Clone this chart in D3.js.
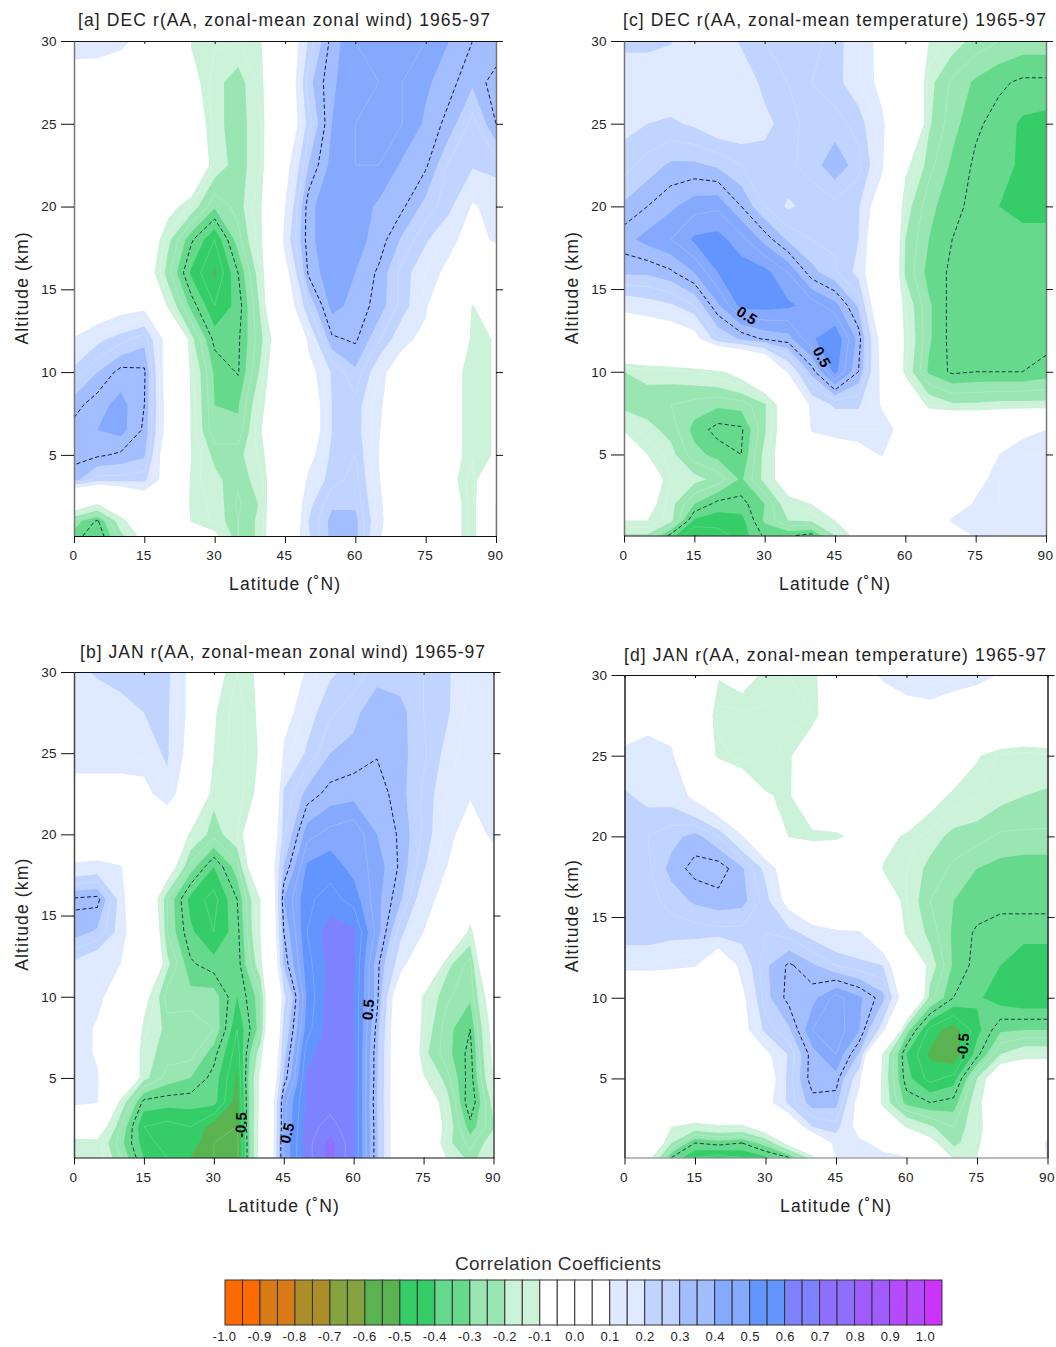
<!DOCTYPE html>
<html>
<head>
<meta charset="utf-8">
<script src="https://cdn.jsdelivr.net/npm/d3@7"></script>
<style>
	html, body { margin: 0; padding: 0; background: #fff; }
	svg { display: block; font-family: 'Liberation Sans', Arial, sans-serif; }
</style>
</head>
<body>
<div id="graph"></div>
<script>
// Grid nodes of the four fields
const latitudes = d3.range(0, 91, 5);
const altitudes = [0.1, 1, 2, 3.5, 5, 6.5, 8, 10, 12, 14, 16, 18, 20, 22.5, 25, 27.5, 30];
const latTicks = [0, 15, 30, 45, 60, 75, 90];
const altTicks = [5, 10, 15, 20, 25, 30];

// Correlation, one row per altitude (bottom row first)
const decWind = [
	[-.47,-.55,-.37,-.2,-.1,-.1,-.22,-.4,-.33,.1,.34,.47,.47,.27,.1,.03,-.15,-.34,.27],
	[-.42,-.51,-.3,-.1,.03,-.26,-.31,-.4,-.33,.05,.35,.47,.47,.29,.1,.03,-.15,-.34,.27],
	[-.15,-.26,-.1,.1,.05,-.28,-.31,-.41,-.34,.05,.33,.44,.44,.28,.1,.03,-.15,-.34,.27],
	[.47,.38,.38,.37,.18,-.28,-.33,-.39,-.31,-.05,.28,.38,.42,.26,.1,.03,-.2,-.34,.1],
	[.52,.51,.49,.46,.15,-.25,-.37,-.37,-.28,-.05,.2,.37,.4,.25,.1,.03,-.2,-.29,-.24],
	[.52,.55,.57,.49,.2,-.27,-.44,-.44,-.25,-.05,.15,.35,.38,.26,.12,.03,-.2,-.29,-.24],
	[.48,.53,.57,.5,.2,-.27,-.45,-.455,-.28,-.05,.15,.35,.38,.27,.15,.05,-.2,-.29,-.24],
	[.37,.45,.52,.51,.18,-.28,-.46,-.505,-.33,-.05,.2,.36,.44,.3,.15,.05,-.2,-.29,-.24],
	[.26,.33,.38,.43,.2,-.33,-.52,-.51,-.36,-.1,.28,.49,.51,.41,.3,.2,.05,-.29,-.24],
	[.1,.15,.2,.22,-.28,-.47,-.6,-.53,-.33,.15,.4,.57,.53,.48,.38,.28,-.05,-.26,-.1],
	[.03,.03,.05,-.15,-.38,-.56,-.66,-.5,-.3,.2,.51,.59,.55,.49,.38,.3,.22,.1,.1],
	[.02,.02,.02,-.1,-.33,-.49,-.6,-.42,-.26,.3,.53,.6,.57,.53,.44,.36,.28,.2,.27],
	[.03,.02,.02,.02,-.2,-.31,-.44,-.38,-.25,.25,.53,.6,.58,.54,.51,.43,.37,.24,.28],
	[.05,.03,.02,.02,.02,-.05,-.31,-.38,-.3,.2,.45,.57,.6,.6,.54,.51,.39,.36,.38],
	[.08,.08,.05,.03,.03,-.12,-.33,-.38,-.3,.1,.38,.55,.6,.62,.6,.54,.48,.38,.5],
	[.2,.18,.15,.1,.05,-.2,-.33,-.38,-.28,.1,.43,.54,.59,.6,.6,.56,.52,.46,.53],
	[.29,.3,.28,.2,.1,-.26,-.29,-.3,-.25,.1,.36,.52,.6,.62,.62,.6,.55,.5,.45]
];
const janWind = [
	[-.26,-.26,-.4,-.55,-.6,-.65,-.7,-.72,-.2,.6,.78,.87,.76,.46,.1,-.05,-.26,-.38,-.28],
	[-.3,-.28,-.43,-.58,-.62,-.62,-.7,-.72,-.2,.6,.78,.87,.76,.46,.1,-.05,-.33,-.42,-.3],
	[-.1,-.15,-.4,-.6,-.62,-.6,-.68,-.7,-.2,.58,.78,.82,.76,.46,.1,-.05,-.3,-.48,-.36],
	[.3,.26,-.3,-.52,-.53,-.53,-.53,-.68,-.22,.58,.76,.78,.76,.45,.1,-.12,-.32,-.55,-.32],
	[.3,.26,.1,-.33,-.42,-.45,-.52,-.66,-.22,.46,.76,.78,.76,.46,.1,-.24,-.38,-.53,-.25],
	[.29,.24,.05,-.32,-.38,-.38,-.48,-.63,-.3,.42,.73,.79,.76,.46,.1,-.33,-.43,-.52,-.22],
	[.29,.24,.05,-.28,-.37,-.36,-.4,-.6,-.42,.38,.68,.78,.76,.48,.1,-.3,-.43,-.5,-.2],
	[.28,.27,.2,-.2,-.43,-.43,-.42,-.55,-.42,.32,.66,.78,.75,.52,.12,-.28,-.39,-.44,-.15],
	[.33,.28,.25,.08,-.33,-.49,-.53,-.53,-.3,.46,.68,.77,.76,.52,.3,.1,-.33,-.42,.05],
	[.48,.44,.32,.05,-.4,-.54,-.6,-.52,-.25,.5,.7,.78,.76,.58,.37,.25,.1,-.3,.15],
	[.51,.52,.32,-.05,-.4,-.57,-.62,-.5,-.25,.55,.69,.72,.68,.57,.46,.3,.2,-.1,.27],
	[.28,.3,.26,.1,-.15,-.42,-.55,-.42,-.05,.45,.66,.68,.63,.58,.49,.36,.25,.1,.2],
	[.05,.05,.05,.05,.05,-.28,-.38,-.3,-.1,.38,.58,.62,.64,.55,.49,.39,.28,.2,.27],
	[.22,.22,.2,.2,.33,.12,-.33,-.33,-.22,.36,.47,.52,.53,.53,.47,.39,.3,.26,.26],
	[.28,.28,.3,.32,.36,.2,-.25,-.33,-.24,.27,.36,.45,.47,.495,.47,.41,.33,.27,.27],
	[.28,.3,.33,.35,.36,.22,-.24,-.33,-.23,.2,.32,.39,.43,.5,.47,.4,.36,.28,.28],
	[.33,.36,.37,.37,.37,.22,-.2,-.3,-.23,.1,.27,.34,.37,.42,.42,.4,.36,.3,.28]
];
const decTemp = [
	[-.36,-.36,-.52,-.66,-.62,-.58,-.49,-.49,-.52,-.35,-.2,-.05,.03,.08,.15,.27,.3,.3,.3],
	[-.25,-.25,-.33,-.56,-.58,-.57,-.44,-.35,-.34,-.25,-.1,0,.03,.1,.27,.3,.3,.3,.3],
	[.05,-.2,-.33,-.45,-.52,-.52,-.45,-.3,-.25,-.1,0,.02,.03,.05,.15,.27,.3,.3,.3],
	[.05,-.15,-.3,-.33,-.37,-.46,-.33,-.15,.05,.1,.1,.1,.05,.03,.03,.2,.3,.33,.3],
	[.1,-.25,-.33,-.43,-.47,-.5,-.33,-.15,.05,.15,.2,.26,.1,.03,.03,.1,.25,.3,.3],
	[-.28,-.33,-.37,-.47,-.52,-.51,-.36,-.15,.27,.3,.3,.3,.2,.05,.05,.05,.12,.22,.25],
	[-.37,-.38,-.4,-.42,-.44,-.43,-.36,-.15,.3,.36,.36,.24,.05,-.3,-.34,-.34,-.33,-.33,-.33],
	[-.35,-.33,-.32,-.3,-.27,-.2,-.05,.27,.47,.67,.5,.22,-.3,-.46,-.51,-.5,-.5,-.5,-.48],
	[.05,.1,.15,.2,.4,.46,.51,.53,.64,.7,.53,.2,-.28,-.44,-.52,-.52,-.52,-.52,-.52],
	[.3,.32,.34,.4,.54,.67,.67,.66,.63,.57,.44,.1,-.3,-.44,-.52,-.52,-.52,-.52,-.52],
	[.46,.46,.49,.55,.65,.68,.67,.6,.47,.41,.33,.05,-.36,-.47,-.51,-.52,-.52,-.52,-.52],
	[.53,.57,.6,.66,.67,.62,.53,.44,.4,.39,.35,.08,-.35,-.45,-.5,-.51,-.52,-.52,-.52],
	[.46,.5,.54,.58,.59,.5,.4,.34,.37,.38,.36,.15,-.32,-.43,-.49,-.51,-.55,-.58,-.58],
	[.38,.42,.46,.46,.44,.4,.38,.39,.42,.49,.42,.28,-.22,-.38,-.46,-.51,-.53,-.56,-.58],
	[.33,.35,.36,.34,.3,.3,.33,.38,.42,.42,.38,.27,.1,-.34,-.43,-.49,-.52,-.56,-.57],
	[.3,.3,.3,.3,.3,.3,.37,.4,.4,.37,.31,.22,.05,-.33,-.41,-.46,-.49,-.51,-.51],
	[.37,.37,.355,.3,.3,.36,.4,.42,.42,.38,.3,.22,.1,-.25,-.32,-.37,-.4,-.42,-.42]
];
const janTemp = [
	[0,-.2,-.5,-.6,-.62,-.6,-.56,-.5,-.3,.25,.27,.27,.26,.1,-.28,-.25,0,.05,.26],
	[0,-.05,-.35,-.5,-.48,-.5,-.42,-.2,.05,.3,.27,.22,.05,-.2,-.37,-.3,0,.1,.27],
	[0,0,-.25,-.3,-.27,-.28,-.15,.1,.35,.38,.2,0,-.27,-.34,-.4,-.3,-.1,.1,.2],
	[0,0,0,0,0,.05,.2,.37,.48,.47,.2,-.3,-.47,-.5,-.48,-.3,-.05,0,0],
	[0,0,0,0,0,.05,.15,.38,.53,.53,.28,-.3,-.53,-.62,-.58,-.35,-.1,-.05,-.05],
	[0,0,0,0,0,.1,.22,.36,.53,.6,.44,-.28,-.55,-.66,-.7,-.52,-.35,-.3,-.3],
	[0,0,0,0,.03,.2,.37,.44,.6,.63,.55,.3,-.42,-.62,-.68,-.57,-.46,-.45,-.45],
	[0,0,.02,.03,.08,.22,.43,.52,.53,.62,.56,.47,.15,-.38,-.5,-.54,-.58,-.6,-.6],
	[.3,.3,.28,.26,.1,.29,.44,.51,.46,.4,.37,.35,.05,-.31,-.46,-.52,-.55,-.59,-.59],
	[.38,.38,.37,.37,.38,.38,.4,.38,.32,.28,.27,.1,-.28,-.37,-.46,-.51,-.53,-.53,-.53],
	[.38,.38,.42,.46,.48,.47,.38,.2,.05,0,-.02,-.1,-.3,-.4,-.45,-.47,-.48,-.48,-.48],
	[.36,.39,.47,.52,.53,.46,.33,.15,-.02,-.02,-.02,-.26,-.3,-.37,-.41,-.45,-.47,-.48,-.48],
	[.37,.4,.43,.47,.4,.26,.05,-.26,-.29,-.28,-.2,-.2,-.27,-.32,-.37,-.38,-.41,-.41,-.41],
	[.36,.33,.32,.22,.1,-.1,-.24,-.27,-.05,0,0,0,-.05,-.2,-.27,-.3,-.33,-.35,-.36],
	[.3,.3,.28,-.05,-.28,-.32,-.32,-.27,-.1,0,0,0,-.02,-.05,-.15,-.24,-.31,-.33,-.31],
	[.1,.2,.15,-.05,-.32,-.31,-.31,-.32,-.3,-.1,0,.1,.18,.2,.15,.1,.05,.02,0],
	[.05,.05,.02,-.26,-.24,-.2,-.27,-.3,-.29,-.1,.15,.28,.32,.33,.32,.3,.24,.1,.05]
];

// Colour bar
const legendColors = [
	'#ff6a00', '#ff6a00', '#d87a15', '#d87a15', '#ab8e2a', '#ab8e2a', '#85a33f', '#85a33f',
	'#5ab351', '#5ab351', '#35cd68', '#35cd68', '#66d98d', '#66d98d', '#99e6b3', '#99e6b3',
	'#ccf2d9', '#ccf2d9', '#ffffff', '#ffffff', '#ffffff', '#ffffff', '#dfe9ff', '#dfe9ff',
	'#c0d4ff', '#c0d4ff', '#a2beff', '#a2beff', '#85a9ff', '#85a9ff', '#6395ff', '#6395ff',
	'#7f82ff', '#7f82ff', '#8f6fff', '#8f6fff', '#a05cff', '#a05cff', '#b54aff', '#b54aff',
	'#cc33ff'
];
const legendTicks = d3.range(-10, 11).map((d) => d / 10);

// Shaded bands: |r| at which each colour starts
const bandLevels = [0.25, 0.35, 0.45, 0.55, 0.65, 0.75, 0.85];
const positiveBands = ['#dfe9ff', '#c0d4ff', '#a2beff', '#85a9ff', '#6395ff', '#7f82ff', '#8f6fff'];
const negativeBands = ['#ccf2d9', '#99e6b3', '#66d98d', '#35cd68', '#5ab351', '#85a33f', '#ab8e2a'];
const thinLevels = [0.3, 0.4, 0.6, 0.7, 0.8];

const panels = [
	{
		title: '[a] DEC r(AA, zonal-mean zonal wind) 1965-97', field: decWind,
		left: 74, right: 496, top: 41, bottom: 536,
		titleX: 78, titleW: 412, titleY: 26, yLabelX: 28, side: '#777', base: '#111',
		labels: []
	},
	{
		title: '[b] JAN r(AA, zonal-mean zonal wind) 1965-97', field: janWind,
		left: 74, right: 493.5, top: 672, bottom: 1157.5,
		titleX: 80, titleW: 405, titleY: 658, yLabelX: 28, side: '#444', base: '#111',
		labels: [
			{ lat: 35.8, alt: 2.1, text: '-0.5', angle: -88 },
			{ lat: 45.7, alt: 1.6, text: '0.5', angle: -75 },
			{ lat: 63.1, alt: 9.2, text: '0.5', angle: -85 }
		]
	},
	{
		title: '[c] DEC r(AA, zonal-mean temperature) 1965-97', field: decTemp,
		left: 624, right: 1046, top: 41, bottom: 535.5,
		titleX: 623, titleW: 423, titleY: 26, yLabelX: 578, side: '#777', base: '#111',
		labels: [
			{ lat: 26.2, alt: 13.4, text: '0.5', angle: 33 },
			{ lat: 42.2, alt: 10.9, text: '0.5', angle: 62 }
		]
	},
	{
		title: '[d] JAN r(AA, zonal-mean temperature) 1965-97', field: janTemp,
		left: 624.5, right: 1047.5, top: 675, bottom: 1157.5,
		titleX: 624, titleW: 422, titleY: 661, yLabelX: 578, side: '#222', base: '#777',
		labels: [{ lat: 72, alt: 7, text: '-0.5', angle: -85 }]
	}
];

const svg = d3.select('#graph').append('svg').attr('width', 1056).attr('height', 1347);

const latAt = d3.scaleLinear().domain([0, latitudes.length - 1]).range([0, 90]).clamp(true);
const altAt = d3.scaleLinear().domain(d3.range(altitudes.length)).range(altitudes).clamp(true);

panels.forEach((p) => drawPanel(p));
drawLegend();

function drawPanel(p) {
	const n = latitudes.length,
		m = altitudes.length;
	const values = p.field.flat();
	const x = d3.scaleLinear().domain([0, 90]).range([p.left, p.right]);
	const y = d3.scaleLinear().domain([0.1, 30]).range([p.bottom, p.top]);
	const g = svg.append('g');

	// contours() counts cells, so a node sits half a cell in from the corner
	const px = (pt) => [x(latAt(pt[0] - 0.5)), y(altAt(pt[1] - 0.5))];
	const area = (sign, level) => {
		const c = d3.contours().size([n, m]).smooth(true).contour(values.map((v) => sign * v), level);
		return c.coordinates
			.flatMap((poly) => poly.map((ring) => 'M' + ring.map((pt) => px(pt).join(',')).join('L') + 'Z'))
			.join('');
	};
	// Contour outline without the stretches that run along the frame
	const outline = (sign, level) => {
		const c = d3.contours().size([n, m]).smooth(true).contour(values.map((v) => sign * v), level);
		const edge = (pt) =>
			pt[0] <= 0.5 ? 1 : pt[0] >= n - 0.5 ? 2 : pt[1] <= 0.5 ? 3 : pt[1] >= m - 0.5 ? 4 : 0;
		const path = d3.path();
		c.coordinates.forEach((poly) =>
			poly.forEach((ring) => {
				let pen = false;
				for (let i = 1; i < ring.length; i++) {
					const a = edge(ring[i - 1]),
						b = edge(ring[i]);
					if (a && b) {
						pen = false;
						continue;
					}
					if (!pen) path.moveTo(...px(ring[i - 1]));
					path.lineTo(...px(ring[i]));
					pen = true;
				}
			})
		);
		return path.toString();
	};

	bandLevels.forEach((level, i) => {
		g.append('path').attr('d', area(1, level)).attr('fill', positiveBands[i]);
		g.append('path').attr('d', area(-1, level)).attr('fill', negativeBands[i]);
	});

	// Faint lines inside the bands
	thinLevels.forEach((level) => {
		[1, -1].forEach((sign) => {
			g.append('path')
				.attr('d', outline(sign, level))
				.attr('fill', 'none')
				.attr('stroke', '#fff')
				.attr('stroke-opacity', 0.3)
				.attr('stroke-width', 0.6);
		});
	});

	// Dashed +/-0.5 contours
	g.append('path')
		.attr('d', outline(1, 0.5))
		.attr('fill', 'none')
		.attr('stroke', '#12125c')
		.attr('stroke-width', 1)
		.attr('stroke-dasharray', '4 2.5');
	g.append('path')
		.attr('d', outline(-1, 0.5))
		.attr('fill', 'none')
		.attr('stroke', '#173c3c')
		.attr('stroke-width', 1)
		.attr('stroke-dasharray', '4 2.5');

	// Inline contour labels
	p.labels.forEach((d) => {
		g.append('text')
			.attr('transform', `translate(${x(d.lat)}, ${y(d.alt)}) rotate(${d.angle})`)
			.attr('text-anchor', 'middle')
			.attr('dy', '0.35em')
			.attr('font-size', 15)
			.attr('font-weight', 'bold')
			.attr('fill', '#000')
			.text(d.text);
	});

	// Axes
	const styleAxis = (sel, color, width) => {
		sel.select('.domain').attr('stroke', color).attr('stroke-width', width);
		sel.selectAll('.tick line').attr('stroke', '#111').attr('stroke-width', 1);
		sel.selectAll('.tick text')
			.attr('font-size', 13.5)
			.attr('fill', '#222')
			.attr('font-family', 'inherit')
			.attr('letter-spacing', 0.4);
	};
	g.append('g')
		.attr('transform', `translate(0, ${p.top})`)
		.call(d3.axisTop(x).tickValues(latTicks).tickSize(-3).tickFormat(''))
		.call(styleAxis, '#111', 1);
	g.append('g')
		.attr('transform', `translate(${p.right}, 0)`)
		.call(d3.axisRight(y).tickValues(altTicks).tickSize(7).tickSizeOuter(0).tickFormat(''))
		.call(styleAxis, p.side, 1.5);
	g.append('g')
		.attr('transform', `translate(${p.left}, 0)`)
		.call(d3.axisLeft(y).tickValues(altTicks).tickSize(13).tickSizeOuter(0).tickPadding(4))
		.call(styleAxis, p.side, 1.5);
	g.append('g')
		.attr('transform', `translate(0, ${p.bottom})`)
		.call(d3.axisBottom(x).tickValues(latTicks).tickSize(7).tickSizeOuter(0).tickPadding(7.5))
		.call(styleAxis, p.base, 1.2)
		.selectAll('.tick text')
		.attr('dx', -1);

	// Titles
	g.append('text')
		.attr('x', p.titleX)
		.attr('y', p.titleY)
		.attr('font-size', 17.5)
		.attr('fill', '#222')
		.attr('textLength', p.titleW)
		.attr('lengthAdjust', 'spacing')
		.text(p.title);
	g.append('text')
		.attr('x', (p.left + p.right) / 2 - 56)
		.attr('y', p.bottom + 54)
		.attr('font-size', 17.5)
		.attr('fill', '#222')
		.attr('textLength', 111)
		.attr('lengthAdjust', 'spacing')
		.text('Latitude (˚N)');
	g.append('text')
		.attr('transform', `translate(${p.yLabelX}, ${(p.top + p.bottom) / 2 + 56}) rotate(-90)`)
		.attr('font-size', 17.5)
		.attr('fill', '#222')
		.attr('textLength', 112)
		.attr('lengthAdjust', 'spacing')
		.text('Altitude (km)');
}

function drawLegend() {
	const band = d3.scaleBand().domain(d3.range(legendColors.length)).range([225, 942]);
	const label = d3.scaleLinear().domain([-1, 1]).range([224, 925]);
	const g = svg.append('g');

	g.append('text')
		.attr('x', 455)
		.attr('y', 1270)
		.attr('font-size', 19)
		.attr('fill', '#333')
		.attr('textLength', 206)
		.attr('lengthAdjust', 'spacing')
		.text('Correlation Coefficients');

	g.selectAll('rect')
		.data(legendColors)
		.join('rect')
		.attr('x', (d, i) => band(i))
		.attr('y', 1280)
		.attr('width', band.bandwidth())
		.attr('height', 45)
		.attr('fill', (d) => d)
		.attr('stroke', '#333')
		.attr('stroke-width', 1);

	g.append('g')
		.attr('transform', 'translate(0, 1329)')
		.call(d3.axisBottom(label).tickValues(legendTicks).tickSize(0).tickPadding(3).tickFormat((d) => d.toFixed(1)))
		.call((s) => s.select('.domain').remove())
		.selectAll('text')
		.attr('font-size', 13)
		.attr('fill', '#222')
		.attr('font-family', 'inherit')
		.attr('letter-spacing', 0.4);
}
</script>
</body>
</html>
